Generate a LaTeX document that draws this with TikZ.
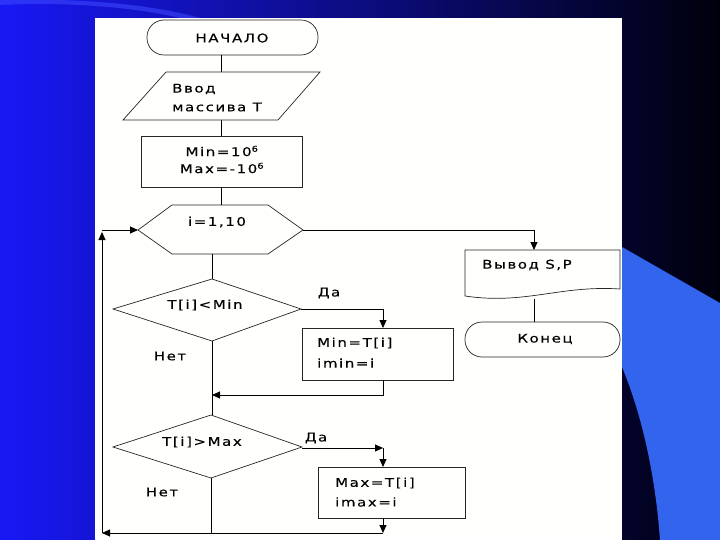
\documentclass[tikz,border=0pt]{standalone}
\usepackage{fontspec}
\setmainfont{DejaVu Sans}[FakeStretch=1.25, LetterSpace=13, FakeBold=0.3]
\usetikzlibrary{arrows.meta}
\definecolor{bgL}{RGB}{24,24,245}
\definecolor{bgM}{RGB}{12,12,160}
\definecolor{bgR}{RGB}{0,0,12}
\definecolor{swoosh}{RGB}{60,70,250}
\definecolor{sideblue}{RGB}{51,100,238}
\definecolor{panel}{RGB}{255,255,253}
\begin{document}
\begin{tikzpicture}[x=1pt,y=-1pt,
  txt/.style={inner sep=0pt, font=\fontsize{12}{14}\selectfont, text=black},
  conn/.style={draw=black, line width=0.9pt},
  arr/.style={conn, -{Triangle[length=8pt,width=7pt]}},
  shp/.style={draw=black!85, line width=0.7pt}]
\useasboundingbox (0,0) rectangle (720,540);
% background
\shade[left color=bgL, middle color=bgM, right color=bgR] (0,0) rectangle (720,540);
\fill[swoosh, opacity=0.6] (0,0) -- (0,5) .. controls (60,2) and (130,6) .. (180,18) -- (200,18) .. controls (150,4) and (80,-2) .. (0,0) -- cycle;
\fill[sideblue] (622,247) -- (720,303) -- (720,540) -- (660,540) .. controls (655,470) and (640,410) .. (622,367) -- cycle;
% white panel
\fill[panel] (95,18) rectangle (622,540);

% shapes
\draw[shp, rounded corners=17pt] (147,20) rectangle (318,55);
\node[txt] (tstart) at (232,38) {НАЧАЛО};

\draw[shp] (166,72) -- (320,72) -- (278,120) -- (123,120) -- cycle;
\node[txt, anchor=west] (tin1) at (172,89) {Ввод};
\node[txt, anchor=west] (tin2) at (172,107) {массива T};

\draw[shp] (141,136) rectangle (302,187);
\node[txt] (tinit1) at (222,151) {Min=10\textsuperscript{6}};
\node[txt] (tinit2) at (222,168) {Max=-10\textsuperscript{6}};

\draw[shp] (138,230) -- (172,205) -- (268,205) -- (303,230) -- (268,254) -- (172,254) -- cycle;
\node[txt] (tloop) at (217,222) {i=1,10};

\draw[shp] (465,250) -- (620,250) -- (620,289) .. controls (560,285) and (525,305) .. (465,296) -- cycle;
\node[txt, anchor=west] (tout) at (482,265) {Вывод\ S,P};

\draw[shp, rounded corners=17pt] (465,322) rectangle (620,357);
\node[txt] (tend) at (545,339) {Конец};

\draw[shp] (113,309) -- (212,279) -- (301,309) -- (212,341) -- cycle;
\node[txt] (tc1) at (205,305) {T[i]<Min};
\node[txt] (yes1) at (329,293) {Да};
\node[txt] (no1) at (170,356) {Нет};

\draw[shp] (302,328) rectangle (453,380);
\node[txt, anchor=west] (tmin1) at (317,343) {Min=T[i]};
\node[txt, anchor=west] (tmin2) at (317,363) {imin=i};

\draw[shp] (113,447) -- (211,415) -- (302,447) -- (211,478) -- cycle;
\node[txt] (tc2) at (202,442) {T[i]>Max};
\node[txt] (yes2) at (316,438) {Да};
\node[txt] (no2) at (162,492) {Нет};

\draw[shp] (318,467) rectangle (465,518);
\node[txt, anchor=west] (tmax1) at (335,483) {Max=T[i]};
\node[txt, anchor=west] (tmax2) at (335,502) {imax=i};

% connector points
\coordinate (startB) at (221,55);
\coordinate (inT) at (221,72);
\coordinate (inB) at (221,120);
\coordinate (initT) at (221,136);
\coordinate (initB) at (221,187);
\coordinate (hexT) at (221,205);
\coordinate (hexR) at (303,230);
\coordinate (hexL) at (138,230);
\coordinate (hexB) at (212,254);
\coordinate (outC) at (534,230);
\coordinate (outT) at (534,250);
\coordinate (outB) at (534,299);
\coordinate (endT) at (534,322);
\coordinate (d1T) at (212,279);
\coordinate (d1R) at (301,309);
\coordinate (d1C) at (383,309);
\coordinate (minT) at (383,328);
\coordinate (minB) at (383,380);
\coordinate (minC) at (383,395);
\coordinate (j1) at (212,395);
\coordinate (d1B) at (212,341);
\coordinate (d2T) at (212,415);
\coordinate (d2R) at (302,448);
\coordinate (d2C) at (383,448);
\coordinate (maxT) at (383,467);
\coordinate (maxB) at (383,518);
\coordinate (maxC) at (383,533);
\coordinate (d2B) at (211,478);
\coordinate (j2) at (211,533);
\coordinate (loopB) at (102,533);
\coordinate (loopT) at (102,230);

% connectors
\draw[conn] (startB) -- (inT);
\draw[conn] (inB) -- (initT);
\draw[conn] (initB) -- (hexT);
\draw[arr] (hexR) -- (outC) -- (outT);
\draw[conn] (outB) -- (endT);
\draw[conn] (hexB) -- (d1T);
\draw[arr] (d1R) -- (d1C) -- (minT);
\draw[arr] (minB) -- (minC) -- (j1);
\draw[conn] (d1B) -- (d2T);
\draw[arr] (d2R) -- (d2C);
\draw[arr] (d2C) -- (maxT);
\draw[arr] (maxB) -- (maxC);
\draw[conn] (d2B) -- (j2);
\draw[arr] (maxC) -- (loopB);
\draw[arr] (loopB) -- ([yshift=-2pt]loopT);
\draw[arr] (loopT) -- (hexL);
\end{tikzpicture}
\end{document}
